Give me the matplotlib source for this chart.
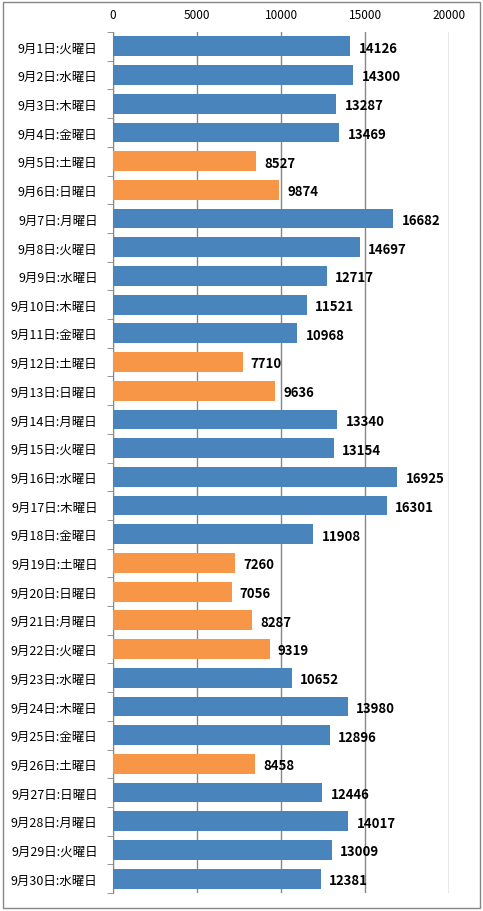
import matplotlib
matplotlib.use('Agg')
import matplotlib.pyplot as plt
from matplotlib.patches import Rectangle

plt.rcParams['font.family'] = ['Noto Sans CJK JP', 'DejaVu Sans']

days = list(range(1, 31))
weekdays = ['火', '水', '木', '金', '土', '日', '月',
            '火', '水', '木', '金', '土', '日', '月',
            '火', '水', '木', '金', '土', '日', '月',
            '火', '水', '木', '金', '土', '日', '月',
            '火', '水']
values = [14126, 14300, 13287, 13469, 8527, 9874, 16682,
          14697, 12717, 11521, 10968, 7710, 9636, 13340,
          13154, 16925, 16301, 11908, 7260, 7056, 8287,
          9319, 10652, 13980, 12896, 8458, 12446, 14017,
          13009, 12381]
# 土日・祝日 (9/21-9/22 are holidays)
holiday = [False, False, False, False, True, True, False,
           False, False, False, False, True, True, False,
           False, False, False, False, True, True, True,
           True, False, False, False, True, False, False,
           False, False]

labels = ['9月%d日:%s曜日' % (d, w) for d, w in zip(days, weekdays)]
colors = ['#F79646' if h else '#4A84BC' for h in holiday]

W, H = 483, 912
fig = plt.figure(figsize=(W / 100, H / 100), dpi=100)
ax = fig.add_axes([113 / W, 1 - 894 / H, (449 - 113) / W, (894 - 33) / H])

y = list(range(len(values)))
ax.barh(y, values, height=0.69, color=colors, zorder=3)
for yi, v in zip(y, values):
    ax.annotate(str(v), (v, yi), xytext=(6, -1), textcoords='offset points',
                va='center', ha='left', fontsize=9.5, fontweight='bold', zorder=4)

ax.set_ylim(len(values) - 0.5, -0.5)
ax.set_xlim(0, 20000)
ax.set_xticks([0, 5000, 10000, 15000, 20000])
ax.xaxis.tick_top()
ax.tick_params(axis='x', length=0, labelsize=8.5, pad=8)
ax.set_yticks(y)
ax.set_yticklabels(labels, fontsize=9)
ax.set_yticks([i - 0.5 for i in range(len(values) + 1)], minor=True)
ax.tick_params(axis='y', which='major', length=0, pad=11)
ax.tick_params(axis='y', which='minor', length=4, color='#868686', direction='out')
ax.grid(axis='x', color='#868686', linewidth=1, zorder=0)
for s in ['top', 'right', 'bottom']:
    ax.spines[s].set_visible(False)
ax.spines['left'].set_color('#868686')

fig.patches.append(Rectangle((3 / W, 3 / H), 1 - 6 / W, 1 - 6 / H,
                             transform=fig.transFigure, fill=False,
                             edgecolor='#868686', linewidth=1))

fig.savefig('out.png', dpi=100)
